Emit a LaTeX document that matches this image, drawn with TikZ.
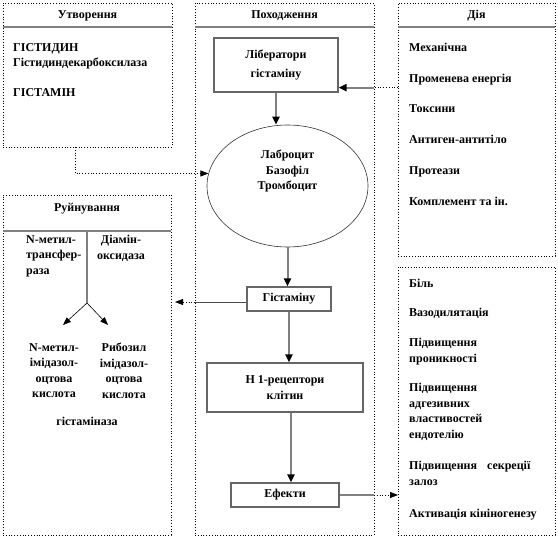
\documentclass[tikz,border=0pt]{standalone}
\usepackage{fontspec}
\setmainfont{Liberation Serif}
\usetikzlibrary{arrows.meta, positioning, shapes.geometric, calc}

\begin{document}
\begin{tikzpicture}[
  x=1pt, y=-1pt,
  font=\fontsize{12}{15.5}\selectfont\bfseries,
  panel/.style={rectangle, draw=black, dotted, line width=0.8pt,
                inner sep=0pt, outer sep=0pt, anchor=north west},
  shapka/.style={draw=gray, line width=2pt},
  blok/.style={rectangle, draw=black!60, line width=1.2pt, inner sep=0pt,
               align=center},
  punkt/.style={anchor=north west, inner sep=0pt, align=left},
  tekst/.style={inner sep=0pt, align=center},
  gl/.style={draw=gray, line width=2pt},
  fl/.style={-{Triangle[length=8pt, width=7pt, color=black]}, draw=gray, line width=2pt},
  tfl/.style={-{Triangle[length=8pt, width=6pt]}, draw=black, line width=0.6pt},
  pfl/.style={-{Triangle[length=8pt, width=6pt]}, draw=black, dotted, line width=0.8pt},
  pl/.style={draw=black, dotted, line width=0.8pt}
]
\useasboundingbox (0,0) rectangle (558,538);

% ---- Утворення ----
\node[panel, minimum width=169pt, minimum height=144pt] (utv) at (3,3) {};
\draw[shapka] ([yshift=-24pt]utv.north west) -- ([yshift=-24pt]utv.north east);
\node[anchor=base, inner sep=0pt] (utvh) at ([yshift=-16pt]utv.north) {Утворення};
\node[punkt] (gstd) at (13,43) {ГІСТИДИН\\Гістидиндекарбоксилаза};
\node[punkt] (gstm) at (13,88) {ГІСТАМІН};

% ---- Походження ----
\node[panel, minimum width=179pt, minimum height=532pt] (pokh) at (195,3) {};
\draw[shapka] ([yshift=-24pt]pokh.north west) -- ([yshift=-24pt]pokh.north east);
\node[anchor=base, inner sep=0pt] (pokhh) at ([yshift=-16pt]pokh.north) {Походження};
\node[blok, minimum width=124pt, minimum height=54pt] (lib) at (276,65) {Лібератори\\[4pt]гістаміну};
\node[ellipse, draw=black!80, line width=0.6pt, minimum width=161pt,
      minimum height=122pt, inner sep=0pt] (ell) at (287.5,186) {};
\node[tekst] (ellt) at (287.5,171) {Лаброцит\\Базофіл\\Тромбоцит};
\node[blok, minimum width=84pt, minimum height=24pt] (gis) at (289,299) {Гістаміну};
\node[blok, minimum width=156pt, minimum height=49pt] (h1) at (285,387.5) {Н 1-рецептори\\клітин};
\node[blok, minimum width=108pt, minimum height=24pt] (efk) at (285,495) {Ефекти};
\draw[fl] (lib.south) -- (lib.south |- ell.north);
\draw[fl] (ell.south) -- (ell.south |- gis.north);
\draw[fl] (gis.south) -- (gis.south |- h1.north);
\draw[fl] ([xshift=6pt]h1.south) -- ([xshift=6pt]h1.south |- efk.north);

% ---- Дія ----
\node[panel, minimum width=157pt, minimum height=253pt] (dia) at (398,3) {};
\draw[shapka] ([yshift=-24pt]dia.north west) -- ([yshift=-24pt]dia.north east);
\node[anchor=base, inner sep=0pt] (diah) at ([yshift=-16pt]dia.north) {Дія};
\node[anchor=base west, inner sep=0pt] (d1) at (409,51) {Механічна};
\node[anchor=base west, inner sep=0pt] (d2) at ([yshift=-31pt]d1.base west) {Променева енергія};
\node[anchor=base west, inner sep=0pt] (d3) at ([yshift=-30pt]d2.base west) {Токсини};
\node[anchor=base west, inner sep=0pt] (d4) at ([yshift=-31pt]d3.base west) {Антиген-антитіло};
\node[anchor=base west, inner sep=0pt] (d5) at ([yshift=-31pt]d4.base west) {Протеази};
\node[anchor=base west, inner sep=0pt] (d6) at ([yshift=-31pt]d5.base west) {Комплемент та ін.};

% ---- Руйнування ----
\node[panel, minimum width=168pt, minimum height=340pt] (ruin) at (3,195) {};
\draw[shapka] ([yshift=-36pt]ruin.north west) -- ([yshift=-36pt]ruin.north east);
\node[anchor=base, inner sep=0pt] (ruinh) at ([yshift=-16pt]ruin.north) {Руйнування};
\coordinate (rtop) at ([yshift=-36pt]ruin.north);
\coordinate (rozv) at ([yshift=-108pt]ruin.north);
\coordinate (ra) at (63,325);
\coordinate (rb) at (108,325);
\draw[gl] (rtop) -- (rozv);
\draw[tfl] (rozv) -- (ra);
\draw[tfl] (rozv) -- (rb);
\node[punkt] (nmt) at (26,235) {N-метил-\\трансфер-\\раза};
\node[tekst, anchor=north] (dao) at (121,235) {Діамін-\\оксидаза};
\node[tekst, anchor=north] (nmi) at (54,343) {N-метил-\\імідазол-\\оцтова\\кислота};
\node[tekst, anchor=north] (rib) at (124,343) {Рибозил\\імідазол-\\оцтова\\кислота};
\node[tekst] (gsm) at (87,421) {гістаміназа};

% ---- Ефекти ----
\node[panel, minimum width=157pt, minimum height=268pt] (eff) at (398,267) {};
\node[punkt] (e1) at (409,279) {Біль};
\node[punkt] (e2) at (409,308) {Вазодилятація};
\node[punkt] (e3) at (409,338) {Підвищення\\проникності};
\node[punkt] (e4) at (409,383) {Підвищення\\адгезивних\\властивостей\\ендотелію};
\node[punkt] (e5) at (409,461) {Підвищення\hskip 10pt секреції\\залоз};
\node[punkt] (e6) at (409,509) {Активація кініногенезу};

% ---- Зв'язки між блоками ----
\coordinate (libin) at ([yshift=5pt]lib.south east);
\coordinate (gisout) at ([yshift=-3pt]gis.west);
\draw[pl] (dia.west |- libin) -- (pokh.east |- libin);
\draw[fl] (pokh.east |- libin) -- (libin);
\draw[pfl] ([xshift=-12.5pt]utv.south) |- (ell.171);
\draw[draw=black!70, line width=0.8pt] (gisout) -- (pokh.west |- gisout);
\draw[pfl, shorten >=4pt] (pokh.west |- gisout) -- (ruin.east |- gisout);
\draw[gl] (efk.east) -- (pokh.east |- efk.east);
\draw[pfl] (pokh.east |- efk.east) -- (eff.west |- efk.east);
\end{tikzpicture}
\end{document}
